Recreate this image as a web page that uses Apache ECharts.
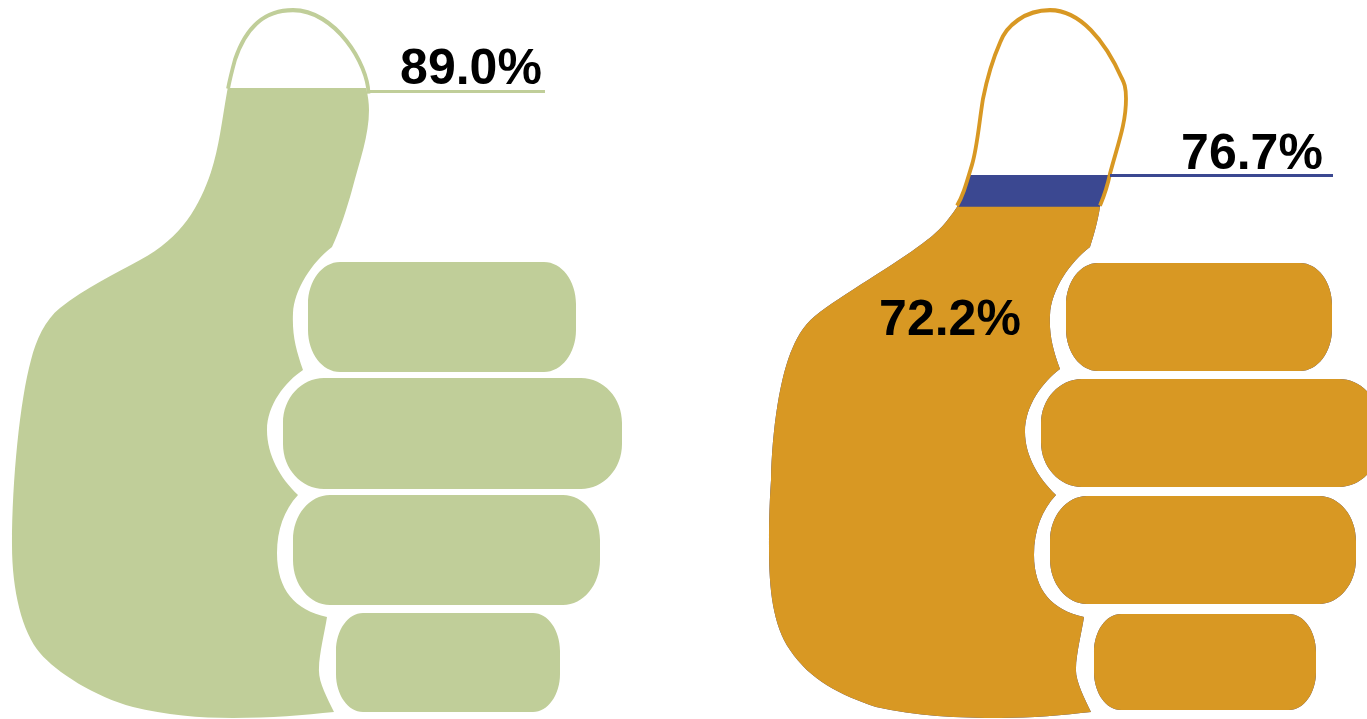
<!DOCTYPE html>
<html>
<head>
<meta charset="utf-8">
<style>html,body{margin:0;padding:0;background:#fff;overflow:hidden}#c{width:1367px;height:719px}</style>
<script src="https://cdn.jsdelivr.net/npm/echarts@6/dist/echarts.min.js"></script>
</head>
<body>
<div id="c"></div>
<script>
// Data
var leftCategories = ['Left'];
var rightCategories = ['Right'];
var leftFill = [89.0];
var rightUpper = [76.7];
var rightLower = [72.2];
var leftLeader = [88.5];
var rightLeader = [76.6];
var axisMax = 100;

var GREEN = '#C0CE99', ORANGE = '#D89823', BLUE = '#3B4891';

function finger(x0, y0, x1, y1, rx, ry) {
  var k = 0.5523, cx = rx * (1 - k), cy = ry * (1 - k);
  return 'M' + (x0 + rx) + ' ' + y0 + 'L' + (x1 - rx) + ' ' + y0 +
    'C' + (x1 - cx) + ' ' + y0 + ',' + x1 + ' ' + (y0 + cy) + ',' + x1 + ' ' + (y0 + ry) +
    'L' + x1 + ' ' + (y1 - ry) +
    'C' + x1 + ' ' + (y1 - cy) + ',' + (x1 - cx) + ' ' + y1 + ',' + (x1 - rx) + ' ' + y1 +
    'L' + (x0 + rx) + ' ' + y1 +
    'C' + (x0 + cx) + ' ' + y1 + ',' + x0 + ' ' + (y1 - cy) + ',' + x0 + ' ' + (y1 - ry) +
    'L' + x0 + ' ' + (y0 + ry) +
    'C' + x0 + ' ' + (y0 + cy) + ',' + (x0 + cx) + ' ' + y0 + ',' + (x0 + rx) + ' ' + y0 + 'Z';
}

var leftHand = 'path://M293 10C262 10,245 30,235 60C231 72,229 82,227 92C222 120,219 148,211 172C200 205,182 238,140 260' +
  'C115 274,85 288,60 308C45 320,36 340,31 360C20 400,12 480,12 545C12 590,22 632,40 653C56 672,95 697,133 707' +
  'C165 715,200 718,233 718C270 718,305 715,334 712C327 697,318 682,319 668C319 655,325 630,327 617' +
  'C295 610,277 590,277 553C277 530,284 510,298 495C280 478,267 455,267 430C267 405,285 382,303 370' +
  'C296 350,292 335,293 313C294 290,312 262,332 247C340 230,347 208,352 190C360 160,369 135,369 110C369 70,335 10,293 10Z' +
  finger(308, 262, 576, 372, 32, 42) + finger(283, 378, 622, 489, 41, 45) +
  finger(293, 495, 600, 605, 37, 45) + finger(336, 613, 560, 712, 27, 38);

var leftTip = 'path://M228 90C230 80,232 72,235 61C245 31,262 11.5,293 11.5C335 11.5,368 65,368.5 95' +
  'M12 10L12 10M12 718L12 718M622 718L622 718';

var rightHand = 'path://M1050 10C1025 10,1006 26,1000 43C992 62,987 80,983 100C979 125,977 150,972 166C966 186,963 197,957 207' +
  'C947 222,938 232,927 240C905 258,850 290,820 312C806 322,798 335,793 347C780 375,772 430,771 480' +
  'C769 510,769 530,769 547C769 590,773 625,790 650C810 680,840 695,876 707' +
  'C915 716,960 718,1000 718C1030 718,1065 715,1091 712C1084 697,1075 680,1076 668C1076 655,1082 630,1084 617' +
  'C1052 610,1034 590,1034 555C1034 530,1042 510,1056 495C1038 478,1025 455,1025 432C1025 405,1043 382,1060 369' +
  'C1053 350,1049 335,1050 315C1051 290,1070 262,1090 247C1094 235,1098 220,1100 207C1105 195,1108 185,1110 175' +
  'C1118 145,1126 125,1126 100C1126 88,1124 84,1122 80C1105 42,1080 10,1050 10Z' +
  finger(1066, 263, 1332, 371, 32, 42) + finger(1041, 379, 1380, 487, 41, 45) +
  finger(1050, 496, 1356, 604, 37, 45) + finger(1094, 614, 1316, 710, 27, 38);

var rightTip = 'path://M957 207C963 197,966 186,972 166C977 150,979 125,983 100C987 80,992 62,1000 44C1006 27,1025 11.5,1050 11.5' +
  'C1080 11.5,1105 42,1122 80C1124 84,1126 88,1126 100C1126 125,1118 145,1110 175C1108 185,1105 195,1100 207' +
  'M769 10L769 10M769 718L769 718M1380 718L1380 718';

function pct(v) { return v.toFixed(1) + '%'; }
var textStyle = {
  show: true, position: 'inside', color: '#000', fontFamily: 'Liberation Sans',
  fontWeight: 'bold', fontSize: 50
};
function tag(x, y, v) {
  return { x: x, y: y, value: v, symbol: 'circle', symbolSize: 0, itemStyle: { color: 'transparent' },
    label: Object.assign({}, textStyle, { formatter: pct(v) }) };
}
function leader(x0, x1, level, color) {
  return { silent: true, symbol: ['none', 'none'], label: { show: false },
    lineStyle: { color: color, width: 3, type: 'solid' },
    data: [[{ x: x0, yAxis: level }, { x: x1, yAxis: level }]], animation: false };
}
function hand(name, axis, symbol, size, values, extra) {
  return Object.assign({
    name: name, type: 'pictorialBar', xAxisIndex: axis, yAxisIndex: axis,
    symbol: symbol, symbolSize: [size, '100%'], symbolBoundingData: axisMax,
    symbolClip: true, data: values, silent: true, animation: false
  }, extra);
}

var chart = echarts.init(document.getElementById('c'), null, { renderer: 'canvas' });
chart.setOption({
  animation: false,
  backgroundColor: '#fff',
  grid: [
    { left: 12, top: 10, width: 610, height: 708 },
    { left: 769, top: 10, width: 598, height: 708 }
  ],
  xAxis: [
    { type: 'category', gridIndex: 0, data: leftCategories, show: false },
    { type: 'category', gridIndex: 1, data: rightCategories, show: false }
  ],
  yAxis: [
    { type: 'value', gridIndex: 0, min: 0, max: axisMax, show: false },
    { type: 'value', gridIndex: 1, min: 0, max: axisMax, show: false }
  ],
  series: [
    hand('Left level', 0, leftHand, 610, leftFill, {
      itemStyle: { color: GREEN }, z: 2,
      markLine: leader(368, 545, leftLeader[0], GREEN),
      markPoint: { silent: true, animation: false, data: [tag(471, 70, leftFill[0])] }
    }),
    hand('Left outline', 0, leftTip, 610, [axisMax], {
      symbolClip: false, itemStyle: { color: 'none', borderColor: GREEN, borderWidth: 2.5 }, z: 3
    }),
    hand('Right upper', 1, rightHand, 611, rightUpper, {
      symbolOffset: [6.5, 0], itemStyle: { color: BLUE }, z: 2,
      markLine: leader(1110, 1333, rightLeader[0], BLUE),
      markPoint: { silent: true, animation: false, data: [tag(1252, 155, rightUpper[0])] }
    }),
    hand('Right lower', 1, rightHand, 611, rightLower, {
      symbolOffset: [6.5, 0], itemStyle: { color: ORANGE }, z: 3,
      markPoint: { silent: true, animation: false, data: [tag(950, 321, rightLower[0])] }
    }),
    hand('Right outline', 1, rightTip, 611, [axisMax], {
      symbolOffset: [6.5, 0], symbolClip: false, itemStyle: { color: 'none', borderColor: ORANGE, borderWidth: 2.5 }, z: 4
    })
  ]
});
</script>
</body>
</html>
